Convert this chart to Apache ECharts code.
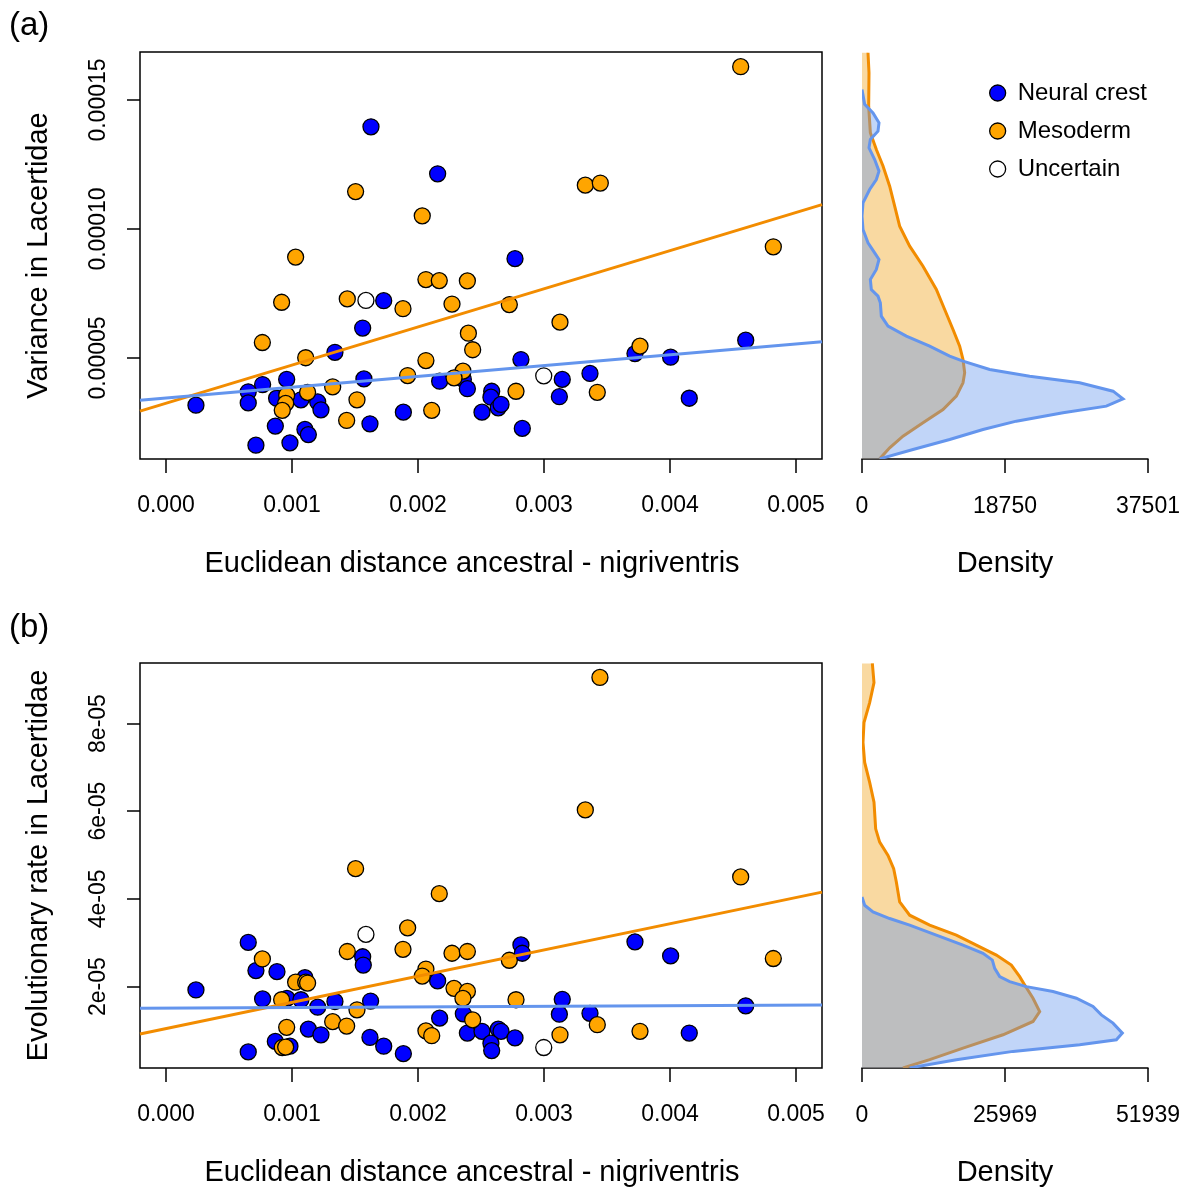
<!DOCTYPE html>
<html>
<head>
<meta charset="utf-8">
<script src="https://cdn.jsdelivr.net/npm/echarts@6/dist/echarts.min.js"></script>
<style>
  html, body { margin: 0; padding: 0; background: #fff; }
  #chart { width: 1190px; height: 1188px; }
</style>
</head>
<body>
<div id="chart"></div>
<script>
// ---------- data: panel (a) variance ----------
const neuralA = [[0.001627,1.396e-4],[0.002156,1.214e-4],[0.001728,7.22e-5],[0.001561,6.16e-5],[0.001341,5.22e-5],
  [0.000958,4.17e-5],[0.000767,3.97e-5],[0.000653,3.69e-5],[0.000653,3.26e-5],[0.000238,3.17e-5],[0.000878,3.44e-5],
  [0.001071,3.38e-5],[0.001204,3.30e-5],[0.00123,2.99e-5],[0.001571,4.19e-5],[0.000868,2.36e-5],[0.001103,2.23e-5],
  [0.00113,2.03e-5],[0.000714,1.62e-5],[0.000984,1.71e-5],[0.001619,2.45e-5],[0.001884,2.90e-5],[0.002172,4.10e-5],
  [0.00236,4.17e-5],[0.002392,3.81e-5],[0.002508,2.90e-5],[0.00277,8.85e-5],[0.002817,4.94e-5],[0.002585,3.71e-5],
  [0.002579,3.48e-5],[0.002637,3.07e-5],[0.002659,3.20e-5],[0.002828,2.27e-5],[0.003145,4.17e-5],[0.003122,3.50e-5],
  [0.003365,4.40e-5],[0.003722,5.17e-5],[0.004005,5.03e-5],[0.004153,3.44e-5],[0.004601,5.69e-5]]
const mesodermA = [[0.001505,1.145e-4],[0.002034,1.051e-4],[0.001029,8.91e-5],[0.002063,8.04e-5],[0.002169,8.00e-5],
  [0.002392,7.99e-5],[0.000918,7.16e-5],[0.001439,7.29e-5],[0.001881,6.91e-5],[0.00227,7.09e-5],[0.0024,5.96e-5],
  [0.002434,5.32e-5],[0.000765,5.60e-5],[0.001109,5.01e-5],[0.002063,4.90e-5],[0.001918,4.32e-5],[0.002357,4.49e-5],
  [0.002286,4.23e-5],[0.001323,3.88e-5],[0.001124,3.67e-5],[0.000958,3.56e-5],[0.00095,3.24e-5],[0.000923,2.97e-5],
  [0.001516,3.38e-5],[0.001434,2.58e-5],[0.002109,2.97e-5],[0.004561,1.629e-4],[0.003328,1.170e-4],[0.003447,1.178e-4],
  [0.00482,9.31e-5],[0.002725,7.07e-5],[0.003127,6.39e-5],[0.003762,5.46e-5],[0.002778,3.71e-5],[0.003423,3.67e-5]]
const uncertainA = [[0.001587,7.23e-5],[0.002998,4.31e-5]]

// fitted lines: [intercept, slope]
const fitNeuralA = [3.446e-5, 0.004186]
const fitMesodermA = [3.245e-5, 0.01479]

// density curves: [density, value]
const densMesodermA = [[787,1.683e-4],[918,1.605e-4],[874,1.476e-4],[1093,1.373e-4],[1880,1.308e-4],[2754,1.244e-4],
  [3628,1.166e-4],[4284,1.0885e-4],[4939,1.011e-4],[6251,9.335e-5],[7999,8.559e-5],[9747,7.655e-5],[10840,6.88e-5],
  [11933,6.105e-5],[12807,5.459e-5],[13244,4.942e-5],[13463,4.425e-5],[13244,4.038e-5],[12370,3.521e-5],[10622,3.004e-5],
  [7999,2.487e-5],[5376,1.970e-5],[3628,1.518e-5],[2317,1.09e-5]]
const densNeuralA = [[0,1.541e-4],[350,1.483e-4],[1442,1.450e-4],[2229,1.4115e-4],[2098,1.379e-4],[1093,1.347e-4],
  [918,1.3146e-4],[1661,1.2694e-4],[2229,1.2242e-4],[1880,1.1919e-4],[1005,1.1531e-4],[131,1.1014e-4],[0,1.0497e-4],
  [131,9.981e-5],[787,9.464e-5],[1661,9.077e-5],[2229,8.818e-5],[1880,8.430e-5],[1093,8.043e-5],[1224,7.655e-5],
  [2098,7.397e-5],[2404,7.138e-5],[2535,6.621e-5],[3409,6.234e-5],[5813,5.846e-5],[8873,5.459e-5],[11496,5.071e-5],
  [13244,4.877e-5],[16741,4.554e-5],[21986,4.296e-5],[28543,4.038e-5],[32914,3.714e-5],[34225,3.417e-5],[32040,3.133e-5],
  [26357,2.875e-5],[20238,2.552e-5],[15867,2.229e-5],[11496,1.841e-5],[6688,1.4535e-5],[2317,1.09e-5]]

// ---------- data: panel (b) evolutionary rate ----------
const neuralB = [[0.000653,3.007e-5],[0.000714,2.364e-5],[0.000881,2.34e-5],[0.000238,1.923e-5],[0.000767,1.718e-5],
  [0.001103,2.204e-5],[0.00096,1.73e-5],[0.001071,1.70e-5],[0.001204,1.53e-5],[0.001341,1.66e-5],[0.001624,1.67e-5],
  [0.001561,2.68e-5],[0.001566,2.49e-5],[0.002156,2.13e-5],[0.00113,1.03e-5],[0.00123,9.0e-6],[0.000868,7.5e-6],
  [0.000984,6.4e-6],[0.000653,5.1e-6],[0.001619,8.4e-6],[0.001728,6.4e-6],[0.001884,4.7e-6],[0.002172,1.28e-5],
  [0.00236,1.38e-5],[0.002392,9.4e-6],[0.002508,9.8e-6],[0.002817,2.95e-5],[0.002828,2.76e-5],[0.003145,1.71e-5],
  [0.003122,1.37e-5],[0.003365,1.39e-5],[0.002637,1.03e-5],[0.002659,9.8e-6],[0.002579,7.1e-6],[0.002585,5.4e-6],
  [0.00277,8.3e-6],[0.003722,3.02e-5],[0.004005,2.70e-5],[0.004153,9.4e-6],[0.004601,1.56e-5]]
const mesodermB = [[0.001505,4.69e-5],[0.002169,4.12e-5],[0.001918,3.34e-5],[0.001439,2.80e-5],[0.001881,2.85e-5],
  [0.00227,2.76e-5],[0.002392,2.80e-5],[0.000765,2.63e-5],[0.001029,2.10e-5],[0.001109,2.10e-5],[0.001124,2.08e-5],
  [0.002063,2.40e-5],[0.002034,2.24e-5],[0.002286,1.96e-5],[0.002392,1.89e-5],[0.002357,1.73e-5],[0.000918,1.70e-5],
  [0.001516,1.47e-5],[0.001323,1.20e-5],[0.001434,1.10e-5],[0.000958,1.07e-5],[0.002434,1.24e-5],[0.002063,9.9e-6],
  [0.002109,8.8e-6],[0.000923,6.1e-6],[0.00095,6.2e-6],[0.003444,9.05e-5],[0.003328,6.03e-5],[0.004561,4.50e-5],
  [0.00482,2.64e-5],[0.002725,2.60e-5],[0.002778,1.70e-5],[0.003423,1.13e-5],[0.003127,9.0e-6],[0.003762,9.8e-6]]
const uncertainB = [[0.001587,3.19e-5],[0.002998,6.1e-6]]

const fitNeuralB = [1.51e-5, 0.000138]
const fitMesodermB = [1.043e-5, 0.005975]

const densMesodermB = [[1877,9.37e-5],[2179,8.931e-5],[1392,8.477e-5],[363,8.022e-5],[182,7.567e-5],[484,7.113e-5],
  [1392,6.658e-5],[2179,6.204e-5],[2482,5.598e-5],[3209,5.295e-5],[4722,4.992e-5],[5751,4.689e-5],[6236,4.386e-5],
  [6841,3.931e-5],[8657,3.628e-5],[12290,3.401e-5],[17133,3.173e-5],[20765,2.946e-5],[24398,2.719e-5],[27122,2.492e-5],
  [28636,2.227e-5],[29544,2.037e-5],[31057,1.734e-5],[32268,1.431e-5],[31057,1.204e-5],[25608,9.01e-6],[18344,5.98e-6],
  [12290,3.33e-6],[7446,1.45e-6]]
const densNeuralB = [[0,4.045e-5],[484,3.855e-5],[1998,3.704e-5],[5025,3.552e-5],[8657,3.401e-5],[13500,3.173e-5],
  [18344,2.946e-5],[21976,2.757e-5],[23671,2.605e-5],[24095,2.416e-5],[25003,2.227e-5],[26819,2.113e-5],[29846,1.999e-5],
  [34689,1.886e-5],[38927,1.734e-5],[41954,1.545e-5],[43468,1.355e-5],[45587,1.166e-5],[47282,9.39e-6],[46192,7.87e-6],
  [39533,6.73e-6],[27425,5.22e-6],[17133,3.33e-6],[8657,1.45e-6]]

// ---------- axes ----------
const xTicks = [0, 0.001, 0.002, 0.003, 0.004, 0.005]
const xTickLabels = ['0.000', '0.001', '0.002', '0.003', '0.004', '0.005']
const yTicksA = [0.00005, 0.0001, 0.00015]
const yTickLabelsA = ['0.00005', '0.00010', '0.00015']
const yTicksB = [0.00002, 0.00004, 0.00006, 0.00008]
const yTickLabelsB = ['2e-05', '4e-05', '6e-05', '8e-05']
const densTicksA = [0, 18750, 37501]
const densTicksB = [0, 25969, 51939]

const xMin = -0.000206, xMax = 0.0052063
const yRangeA = [1.085e-5, 1.686e-4]
const yRangeB = [1.43e-6, 9.38e-5]

const FONT = '"Liberation Sans", Arial, Helvetica, sans-serif'
const BLUE = '#0000FF', ORANGE = '#FFA500'
const LINE_BLUE = '#6495ED', LINE_ORANGE = '#F28C00'

function labelFor(ticks, labels) {
  return function (v) {
    let best = 0
    ticks.forEach((t, i) => { if (Math.abs(t - v) < Math.abs(ticks[best] - v)) best = i })
    return labels[best]
  }
}

function scatterX(gi) {
  return {
    type: 'value', gridIndex: gi, min: xMin, max: xMax,
    axisLine: { show: false, onZero: false }, splitLine: { show: false },
    axisTick: { show: true, length: 14, customValues: xTicks, lineStyle: { color: '#000', width: 1.5 } },
    axisLabel: { customValues: xTicks, formatter: labelFor(xTicks, xTickLabels), margin: 35,
      fontSize: 23, color: '#000', fontFamily: FONT },
    name: 'Euclidean distance ancestral - nigriventris', nameLocation: 'middle', nameGap: 90,
    nameTextStyle: { fontSize: 29, color: '#000', fontFamily: FONT, padding: [0, 18, 0, 0] }
  }
}

function scatterY(gi, range, ticks, labels, title) {
  return {
    type: 'value', gridIndex: gi, min: range[0], max: range[1],
    axisLine: { show: false, onZero: false }, splitLine: { show: false },
    axisTick: { show: true, length: 13, customValues: ticks, lineStyle: { color: '#000', width: 1.5 } },
    axisLabel: { customValues: ticks, formatter: labelFor(ticks, labels), rotate: 90, margin: 30,
      fontSize: 23, color: '#000', fontFamily: FONT },
    name: title, nameLocation: 'middle', nameRotate: 90, nameGap: 87,
    nameTextStyle: { fontSize: 29, color: '#000', fontFamily: FONT }
  }
}

function densX(gi, ticks) {
  return {
    type: 'value', gridIndex: gi, min: 0, max: ticks[ticks.length - 1],
    axisLine: { show: true, onZero: false, lineStyle: { color: '#000', width: 1.5 } }, splitLine: { show: false },
    axisTick: { show: true, length: 14, customValues: ticks, lineStyle: { color: '#000', width: 1.5 } },
    axisLabel: { customValues: ticks, formatter: v => String(Math.round(v)), margin: 36,
      fontSize: 23, color: '#000', fontFamily: FONT },
    name: 'Density', nameLocation: 'middle', nameGap: 90,
    nameTextStyle: { fontSize: 29, color: '#000', fontFamily: FONT }
  }
}

function densY(gi, range) {
  return { type: 'value', gridIndex: gi, min: range[0], max: range[1], show: false, axisLine: { onZero: false } }
}

function points(name, data, ai, color) {
  return {
    name: name, type: 'scatter', xAxisIndex: ai, yAxisIndex: ai, data: data, symbolSize: 16,
    itemStyle: { color: color, borderColor: '#000', borderWidth: 1.3, opacity: 1 }, z: 3
  }
}

function fitLine(fit, ai, color) {
  return {
    type: 'line', xAxisIndex: ai, yAxisIndex: ai, showSymbol: false, silent: true, z: 4,
    data: [[xMin, fit[0] + fit[1] * xMin], [xMax, fit[0] + fit[1] * xMax]],
    lineStyle: { color: color, width: 3 }
  }
}

function density(curve, ai, fill, stroke) {
  return {
    type: 'custom', xAxisIndex: ai, yAxisIndex: ai, silent: true, clip: true, z: 2,
    data: [[0, curve[0][1]]],
    renderItem: function (params, api) {
      const pts = curve.map(p => api.coord(p))
      const area = [api.coord([0, curve[0][1]])].concat(pts, [api.coord([0, curve[curve.length - 1][1]])])
      return {
        type: 'group',
        children: [
          { type: 'polygon', shape: { points: area }, style: { fill: fill, stroke: null } },
          { type: 'polyline', shape: { points: pts }, style: { stroke: stroke, lineWidth: 3, fill: null } }
        ]
      }
    }
  }
}

const chart = echarts.init(document.getElementById('chart'))

chart.setOption({
  animation: false,
  backgroundColor: '#fff',
  title: [
    { text: '(a)', left: 4, top: 4, textStyle: { fontSize: 33, fontWeight: 'normal', color: '#000', fontFamily: FONT } },
    { text: '(b)', left: 4, top: 606, textStyle: { fontSize: 33, fontWeight: 'normal', color: '#000', fontFamily: FONT } }
  ],
  legend: {
    data: ['Neural crest', 'Mesoderm', 'Uncertain'],
    orient: 'vertical', left: 984, top: 76, itemWidth: 30, itemHeight: 16, itemGap: 14,
    icon: 'circle', selectedMode: false,
    itemStyle: { borderColor: '#000', borderWidth: 1.3 },
    textStyle: { fontSize: 24, color: '#000', fontFamily: FONT }
  },
  grid: [
    { left: 140, top: 52, width: 682, height: 407, show: true, borderColor: '#000', borderWidth: 1.5 },
    { left: 862, top: 52, width: 286, height: 407 },
    { left: 140, top: 663, width: 682, height: 407, show: true, borderColor: '#000', borderWidth: 1.5 },
    { left: 862, top: 663, width: 286, height: 407 }
  ],
  xAxis: [scatterX(0), densX(1, densTicksA), scatterX(2), densX(3, densTicksB)],
  yAxis: [
    scatterY(0, yRangeA, yTicksA, yTickLabelsA, 'Variance in Lacertidae'),
    densY(1, yRangeA),
    scatterY(2, yRangeB, yTicksB, yTickLabelsB, 'Evolutionary rate in Lacertidae'),
    densY(3, yRangeB)
  ],
  series: [
    points('Neural crest', neuralA, 0, BLUE),
    points('Mesoderm', mesodermA, 0, ORANGE),
    points('Uncertain', uncertainA, 0, '#fff'),
    fitLine(fitMesodermA, 0, LINE_ORANGE),
    fitLine(fitNeuralA, 0, LINE_BLUE),
    density(densMesodermA, 1, 'rgba(240,160,20,0.4)', LINE_ORANGE),
    density(densNeuralA, 1, 'rgba(100,149,237,0.4)', LINE_BLUE),

    points('Neural crest', neuralB, 2, BLUE),
    points('Mesoderm', mesodermB, 2, ORANGE),
    points('Uncertain', uncertainB, 2, '#fff'),
    fitLine(fitMesodermB, 2, LINE_ORANGE),
    fitLine(fitNeuralB, 2, LINE_BLUE),
    density(densMesodermB, 3, 'rgba(240,160,20,0.4)', LINE_ORANGE),
    density(densNeuralB, 3, 'rgba(100,149,237,0.4)', LINE_BLUE)
  ]
})
</script>
</body>
</html>
